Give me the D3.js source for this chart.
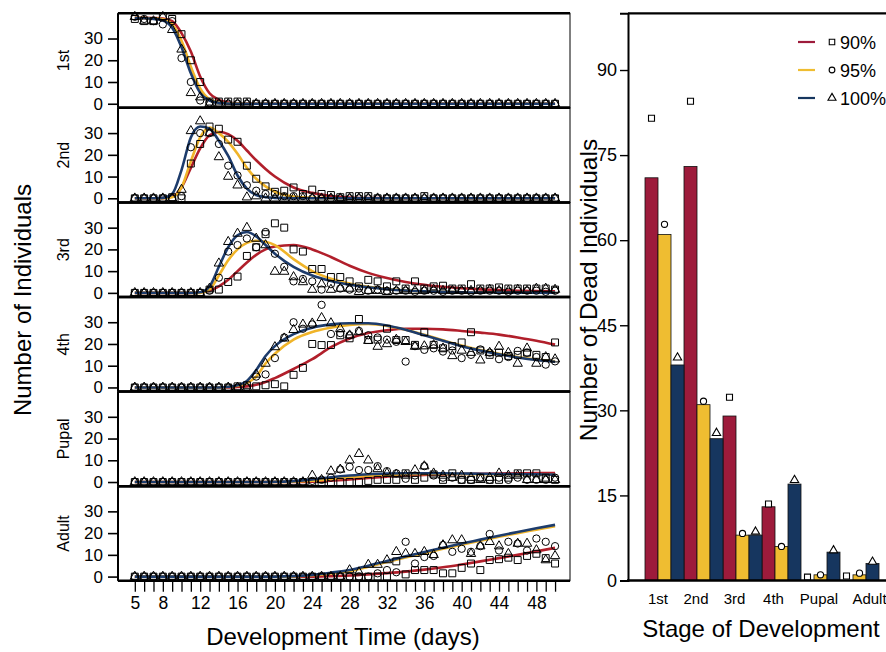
<!DOCTYPE html>
<html>
<head>
<meta charset="utf-8">
<script src="https://cdn.jsdelivr.net/npm/d3@7"></script>
<style>
  body { margin: 0; background: #fff; }
  text { font-family: "Liberation Sans", Arial, sans-serif; fill: #000; }
</style>
</head>
<body>
<svg id="canvas"></svg>
<script>
// ---------------- data ----------------
let stages = ['1st', '2nd', '3rd', '4th', 'Pupal', 'Adult']
let treatments = ['90%', '95%', '100%']

let days = [5,6,7,8,9,10,11,12,13,14,15,16,17,18,19,20,21,22,23,24,25,26,27,28,29,30,31,32,33,34,35,36,37,38,39,40,41,42,43,44,45,46,47,48,49,50]
let dayLabels = [5,8,12,16,20,24,28,32,36,40,44,48]
let countTicks = [0,10,20,30]

// observed counts (one per day, d5..d50)
let obs1st90  = [39,38,38,40,39,32,20,10,1,1,1,1,1,0,0,0,0,0,0,0,0,0,0,0,0,0,0,0,0,0,0,0,0,0,0,0,0,0,0,0,0,0,0,0,0,0]
let obs1st95  = [40,39,38,36.5,38,21,10,1.5,0.5,0,0,0,0,0,0,0,0,0,0,0,0,0,0,0,0,0,0,0,0,0,0,0,0,0,0,0,0,0,0,0,0,0,0,0,0,0]
let obs1st100 = [40,38,38,40,34,25,5,3,0,0,0,0,0,0,0,0,0,0,0,0,0,0,0,0,0,0,0,0,0,0,0,0,0,0,0,0,0,0,0,0,0,0,0,0,0,0]

let obs2nd90  = [0,0,0,0,0.5,0,16,25,33,32,27,26,15,9,5.5,3,3.5,5,2,4,2,1.5,0.5,1,1,1,0,0,0,0,0,1,0,0,0,0,0,0,0,0,0,0,0,0,0,0]
let obs2nd95  = [0,0,0,0,0,1,23.5,30,30,25,15,10.5,6,3.5,2,2,1,1,1,0,0,0,0,0,0,0,0,0,0,0,0,0,0,0,0,0,0,0,0,0,0,0,0,0,0,0]
let obs2nd100 = [0,0,0,0,0,4,31,35.5,30,19,10,6,0.5,1,0,0,0,0,0,0,0,0,0,0,0,0,0,0,0,0,0,0,0,0,0,0,0,0,0,0,0,0,0,0,0,0]

let obs3rd90  = [0,0,0,0,0,0,0,0,1.5,1.5,5,7.5,17,21,27,32,30,20,19,11,11,7.3,7.3,5.3,3,6,5.3,3,5.3,2,5.3,2,3,3.3,2,2,4,2,2,2.5,2,2,2,2,2,1.5]
let obs3rd95  = [0,0,0,0,0,0,0,0,1,7,19,22,25,21,28,18,12,5.3,6.4,5.3,1.5,4,2,1.5,2,1,1.5,1,1,1,0.5,1,1,0.5,1,1,0.5,1,1,1,0.5,1,1,1,0.5,1]
let obs3rd100 = [0,0,0,0,0,0,0,0,2,13.6,23.5,27.3,30,25,22,9.8,9.8,7.3,5,1.5,4,1.5,2,2,0.5,1,1,0.5,1,1,1,1,1.5,1,1,1,1,1,1.5,1,1,1.5,1,2,2,1.5]

let obs4th90  = [0,0,0,0,0,0,0,0,0,0,0,0.5,1,0.5,1,1.5,0.5,5.8,9,20,19.5,19.5,24,22.6,31.5,21.8,22,27,21.8,21.8,19.6,25.4,19.6,18,19,20.7,25.4,17,15,16,14.5,15,16,15,14,20.7]
let obs4th95  = [0,0,0,0,0,0,0,0,0,0,0,0,0,5,6,13.5,23,30,27,29,38,24.6,25,24,26,24,23,22,21,11.9,19,17.3,18,16.5,17,13.5,15,17.5,16,13,14,16.8,16,14,10.5,12]
let obs4th100 = [0,0,0,0,0,0,0,0,0,0,0,0,0,6,11,18.6,22.6,26.5,29,29.5,32,29.6,27,24,25.5,21.5,18.8,20,22,21,18.8,19,19.5,18,14.5,17,16,12.5,16,18.8,16,11,18,11,14,13]

let obsPupal90  = [0,0,0,0,0,0,0,0,0,0,0,0,0,0,0,0,0,0,0,0,0,0,0,0,0,0.5,1,1,1,4,1,2,3.5,1,4,1,1,2,1,1,2,4,4,4,2,1]
let obsPupal95  = [0,0,0,0,0,0,0,0,0,0,0,0,0,0,0,0,0,0,0,0.5,1,2,5.8,7,5.5,5.5,7.3,5,4,1.5,3,7.3,3,2,2,1,1,2,1,2,1,2,1,1,1,2]
let obsPupal100 = [0,0,0,0,0,0,0,0,0,0,0,0,0,0,0,0,0,0,0,3,1,5,5.8,10,13,10,6,4,3.5,3,5.5,7.3,4,3,2,3,2,1,2,4,3,3,1,1,1,1]

let obsAdult90  = [0,0,0,0,0,0,0,0,0,0,0,0,0,0,0,0,0,0,0,0,0,0,0,0,0,0,0,0,7,1,3,3,3,1.5,1.5,4,6,3,7.6,8,8.7,7.6,9.5,10.5,8.5,6]
let obsAdult95  = [0,0,0,0,0,0,0,0,0,0,0,0,0,0,0,0,0,0,0,0,0,0,0,0,0,0,1.5,3,2,16,6,9,9.5,14.5,11.4,12.8,11.4,14,19.6,12,16,15.2,12,17.5,16,14]
let obsAdult100 = [0,0,0,0,0,0,0,0,0,0,0,0,0,0,0,0,0,0,0,0,0,0,0,3,2,5.5,5.5,7.6,11.4,10.5,10.5,11.4,10,14.5,16.8,16.8,10.5,14,16,14,10.5,15.2,15.2,12.2,7.6,9.5]

// fitted curves, read at these days
let fitDays = [5,6,7,8,9,10,11,12,13,14,15,16,17,18,19,20,22,24,26,28,30,32,34,36,38,40,42,44,46,48,50]

let fit1st90  = [39.5,39.5,39.4,39.2,38,32.5,24,12.5,4.8,1.8,0.6,0.2,0.1,0,0,0,0,0,0,0,0,0,0,0,0,0,0,0,0,0,0]
let fit1st95  = [39.5,39.4,39.2,38.8,36.5,29,17,7,2,0.6,0.2,0.1,0,0,0,0,0,0,0,0,0,0,0,0,0,0,0,0,0,0,0]
let fit1st100 = [39.4,39.3,39,38.3,35,26,14,5,1.5,0.4,0.1,0,0,0,0,0,0,0,0,0,0,0,0,0,0,0,0,0,0,0,0]

let fit2nd90  = [0,0,0,0.1,0.8,5,14,23,29,30.5,29.5,26.5,22,17.5,13.5,10,5,2.5,1,0.4,0.15,0.05,0,0,0,0,0,0,0,0,0]
let fit2nd95  = [0,0,0,0,0.5,5,17,28,32.5,30,26,20.5,14,9,5.5,3,0.8,0.2,0.05,0,0,0,0,0,0,0,0,0,0,0,0]
let fit2nd100 = [0,0,0,0.2,2,13,28,33,32,26.5,19.5,10.5,4.5,1.5,0.5,0.2,0,0,0,0,0,0,0,0,0,0,0,0,0,0,0]

let fit3rd90  = [0,0,0,0,0,0,0,0.2,1,3,6,10,14,17.5,20,21.3,22,20,16.5,12.5,9.2,6.8,5,3.7,2.8,2.1,1.6,1.3,1,0.8,0.7]
let fit3rd95  = [0,0,0,0,0,0,0,0,1.5,8,15,20,23,24,23.5,22,15.5,10,6.5,4.3,2.8,1.8,1.1,0.7,0.5,0.3,0.2,0.2,0.1,0.1,0.1]
let fit3rd100 = [0,0,0,0,0,0,0,0.3,3,12,21,26.5,28,26,22,18,12,8,5.5,3.8,2.6,1.7,1.1,0.7,0.5,0.3,0.2,0.2,0.1,0.1,0.1]

let fit4th90  = [0,0,0,0,0,0,0,0,0,0,0,0.2,0.5,1.2,2.5,4.3,8.5,13,18.5,22.5,25,26.3,27,27,26.7,26,25.2,24.3,23,21.5,19.7]
let fit4th95  = [0,0,0,0,0,0,0,0,0,0,0.3,0.8,2,5,11,15.5,22,25.5,27.5,28.8,29.2,28.3,26.5,24.2,21.7,19.3,17.2,15.5,14,12.8,12]
let fit4th100 = [0,0,0,0,0,0,0,0,0,0,0.3,1,3,8,14.5,19,24.5,27.5,29,29.5,29.5,28.5,26.5,24,21.5,19,17,15.3,13.8,12.6,11.8]

let fitPupal90  = [0,0,0,0,0,0,0,0,0,0,0,0,0,0,0,0,0,0.2,0.6,1.2,1.9,2.5,3,3.3,3.5,3.7,3.8,3.9,4,4.1,4.1]
let fitPupal95  = [0,0,0,0,0,0,0,0,0,0,0,0,0,0,0,0.05,0.2,0.6,1.4,2.2,2.9,3.3,3.6,3.7,3.7,3.7,3.6,3.6,3.5,3.4,3.3]
let fitPupal100 = [0,0,0,0,0,0,0,0,0,0,0,0,0,0,0,0.1,0.4,1.2,2.2,3,3.6,3.9,4,4,4,3.9,3.8,3.7,3.6,3.5,3.4]

let fitAdult90  = [0,0,0,0,0,0,0,0,0,0,0,0,0,0,0,0,0,0,0.2,0.5,1,1.6,2.3,3.2,4.3,5.6,7,8.5,10,11.6,13.2]
let fitAdult95  = [0,0,0,0,0,0,0,0,0,0,0,0,0,0,0,0,0.1,0.6,1.4,2.6,4.5,6.7,8.8,10.8,12.8,14.7,16.5,18.3,20,21.6,23.2]
let fitAdult100 = [0,0,0,0,0,0,0,0,0,0,0,0,0,0,0,0,0.2,0.8,1.8,3,5,7.2,9.3,11.3,13.3,15.2,17,18.8,20.5,22.2,23.8]

// right panel: dead individuals per stage
let dead90  = [71,73,29,13,0,0]
let dead95  = [61,31,8,6,1,1]
let dead100 = [38,25,8,17,5,3]
let deadObs90  = [81.5,84.5,32.3,13.5,0.6,0.8]
let deadObs95  = [62.8,31.6,8.3,6,1,1.3]
let deadObs100 = [39.3,26,8.6,17.7,5.3,3.3]
let deadTicks = [0,15,30,45,60,75,90]

// ---------------- setup ----------------
let width = 886
let height = 652
let canvas = d3.select('#canvas').attr('width', width).attr('height', height)

let lineColors = ['#b11f2b', '#f0b429', '#1d3c6c']
let barColors = ['#9d1b3b', '#efbd31', '#16365f']
let symbols = [d3.symbolSquare, d3.symbolCircle, d3.symbolTriangle]

let panels = [
  {stage: '1st',   obs: [obs1st90, obs1st95, obs1st100],       fit: [fit1st90, fit1st95, fit1st100]},
  {stage: '2nd',   obs: [obs2nd90, obs2nd95, obs2nd100],       fit: [fit2nd90, fit2nd95, fit2nd100]},
  {stage: '3rd',   obs: [obs3rd90, obs3rd95, obs3rd100],       fit: [fit3rd90, fit3rd95, fit3rd100]},
  {stage: '4th',   obs: [obs4th90, obs4th95, obs4th100],       fit: [fit4th90, fit4th95, fit4th100]},
  {stage: 'Pupal', obs: [obsPupal90, obsPupal95, obsPupal100], fit: [fitPupal90, fitPupal95, fitPupal100]},
  {stage: 'Adult', obs: [obsAdult90, obsAdult95, obsAdult100], fit: [fitAdult90, fitAdult95, fitAdult100]}
]

// ---------------- left: stacked panels ----------------
let left = 118, right = 570
let panelTop = 13.3
let panelH = 94.57

let xDay = d3.scaleLinear().domain([3.2, 51.6]).range([left, right])

panels.forEach((p, i) => {
  let y0 = panelTop + i * panelH
  let yScale = d3.scaleLinear().domain([-1.9, 41.6]).range([y0 + panelH, y0])
  let g = canvas.append('g')

  // curves
  let line = d3.line()
    .x((d, j) => xDay(fitDays[j]))
    .y(d => yScale(d))
    .curve(d3.curveMonotoneX)
  p.fit.forEach((f, k) => {
    g.append('path')
      .datum(f)
      .attr('d', line)
      .attr('fill', 'none')
      .attr('stroke', lineColors[k])
      .attr('stroke-width', 2.6)
  })

  // observed points
  p.obs.forEach((o, k) => {
    let sym = d3.symbol().type(symbols[k]).size([48, 42, 38][k])
    g.selectAll('.pt' + k)
      .data(o)
      .enter()
      .append('path')
      .attr('d', sym)
      .attr('transform', (d, j) => 'translate(' + xDay(days[j]) + ',' + yScale(d) + ')')
      .attr('fill', 'none')
      .attr('stroke', '#000')
      .attr('stroke-width', 1)
  })

  // y axis
  let yAxis = d3.axisLeft(yScale).tickValues(countTicks).tickSize(10).tickPadding(5)
  let ax = g.append('g').attr('transform', 'translate(' + left + ',0)').call(yAxis)
  ax.select('.domain').remove()
  ax.selectAll('line').attr('stroke-width', 1.6)
  ax.selectAll('text').style('font-size', '17px').style('font-family', '"Liberation Sans", Arial, sans-serif')

  // frame
  g.append('rect')
    .attr('x', left).attr('y', y0)
    .attr('width', right - left).attr('height', panelH)
    .attr('fill', 'none').attr('stroke', '#000').attr('stroke-width', 1)
  g.append('line').attr('x1', left).attr('x2', right).attr('y1', y0).attr('y2', y0)
    .attr('stroke', '#000').attr('stroke-width', 2.5)
  g.append('line').attr('x1', left).attr('x2', right).attr('y1', y0 + panelH).attr('y2', y0 + panelH)
    .attr('stroke', '#000').attr('stroke-width', 2.5)
  g.append('line').attr('x1', left).attr('x2', left).attr('y1', y0).attr('y2', y0 + panelH)
    .attr('stroke', '#000').attr('stroke-width', 2)

  // stage label
  g.append('text')
    .attr('transform', 'translate(69,' + (y0 + panelH / 2) + ') rotate(-90)')
    .attr('text-anchor', 'middle')
    .style('font-size', '16px')
    .text(p.stage)
})

// x axis
let xBottom = panelTop + 6 * panelH
let xAxis = d3.axisBottom(xDay)
  .tickValues(days)
  .tickSize(11)
  .tickPadding(5)
  .tickFormat(d => dayLabels.includes(d) ? d : '')
let xg = canvas.append('g').attr('transform', 'translate(0,' + xBottom + ')').call(xAxis)
xg.select('.domain').remove()
xg.selectAll('line').attr('stroke-width', 1.3)
xg.selectAll('text').style('font-size', '17.5px').style('font-family', '"Liberation Sans", Arial, sans-serif')

canvas.append('text')
  .attr('x', 343).attr('y', 645)
  .attr('text-anchor', 'middle')
  .style('font-size', '24px')
  .text('Development Time (days)')

canvas.append('text')
  .attr('transform', 'translate(31,300) rotate(-90)')
  .attr('text-anchor', 'middle')
  .style('font-size', '24px')
  .text('Number of Individuals')

// ---------------- right: dead individuals ----------------
let rLeft = 628
let yDead = d3.scaleLinear().domain([0, 100]).range([580.5, 13.3])
let xStage = d3.scaleBand().domain(stages).range([645, 879])
let xTreat = d3.scaleBand().domain(treatments).range([0, xStage.bandwidth()])

let deadBars = [dead90, dead95, dead100]
let deadObs = [deadObs90, deadObs95, deadObs100]

deadBars.forEach((vals, k) => {
  canvas.selectAll('.bar' + k)
    .data(vals)
    .enter()
    .append('rect')
    .attr('x', (d, i) => xStage(stages[i]) + xTreat(treatments[k]))
    .attr('y', d => yDead(d))
    .attr('width', xTreat.bandwidth())
    .attr('height', d => yDead(0) - yDead(d))
    .attr('fill', barColors[k])
    .attr('stroke', '#111')
    .attr('stroke-width', 0.8)
})

deadObs.forEach((vals, k) => {
  let sym = d3.symbol().type(symbols[k]).size([36, 30, 30][k])
  canvas.selectAll('.dobs' + k)
    .data(vals)
    .enter()
    .append('path')
    .attr('d', sym)
    .attr('transform', (d, i) => 'translate(' + (xStage(stages[i]) + xTreat(treatments[k]) + xTreat.bandwidth() / 2) + ',' + yDead(d) + ')')
    .attr('fill', '#fff')
    .attr('stroke', '#000')
    .attr('stroke-width', 1.1)
})

let yDeadAxis = d3.axisLeft(yDead).tickValues(deadTicks).tickSize(8).tickPadding(3)
let rg = canvas.append('g').attr('transform', 'translate(' + rLeft + ',0)').call(yDeadAxis)
rg.select('.domain').attr('stroke-width', 2)
rg.selectAll('line').attr('stroke-width', 1.4)
rg.selectAll('text').style('font-size', '18px').style('font-family', '"Liberation Sans", Arial, sans-serif')

canvas.append('line').attr('x1', rLeft).attr('x2', width).attr('y1', 13.3).attr('y2', 13.3)
  .attr('stroke', '#000').attr('stroke-width', 2.2)
canvas.append('line').attr('x1', rLeft - 1).attr('x2', width).attr('y1', 580.5).attr('y2', 580.5)
  .attr('stroke', '#000').attr('stroke-width', 2.5)

// category labels sit a little off the group centres in the original
let labelShift = [-6.5, -7.5, -8, -8, -1.5, 10]
canvas.selectAll('.stageLabel')
  .data(stages)
  .enter()
  .append('text')
  .attr('x', (d, i) => xStage(d) + xStage.bandwidth() / 2 + labelShift[i])
  .attr('y', 604)
  .attr('text-anchor', 'middle')
  .style('font-size', '15px')
  .text(d => d)

canvas.append('text')
  .attr('x', 761).attr('y', 637)
  .attr('text-anchor', 'middle')
  .style('font-size', '24px')
  .text('Stage of Development')

canvas.append('text')
  .attr('transform', 'translate(597,290) rotate(-90)')
  .attr('text-anchor', 'middle')
  .style('font-size', '24.5px')
  .text('Number of Dead Individuals')

// legend
treatments.forEach((t, k) => {
  let ly = 42 + k * 28
  canvas.append('line').attr('x1', 798).attr('x2', 815).attr('y1', ly).attr('y2', ly)
    .attr('stroke', barColors[k]).attr('stroke-width', 2.2)
  canvas.append('path')
    .attr('d', d3.symbol().type(symbols[k]).size([30, 26, 28][k]))
    .attr('transform', 'translate(832,' + ly + ')')
    .attr('fill', 'none').attr('stroke', '#000').attr('stroke-width', 1.1)
  canvas.append('text')
    .attr('x', 840).attr('y', ly + 6.5)
    .style('font-size', '18px')
    .text(t)
})
</script>
</body>
</html>
